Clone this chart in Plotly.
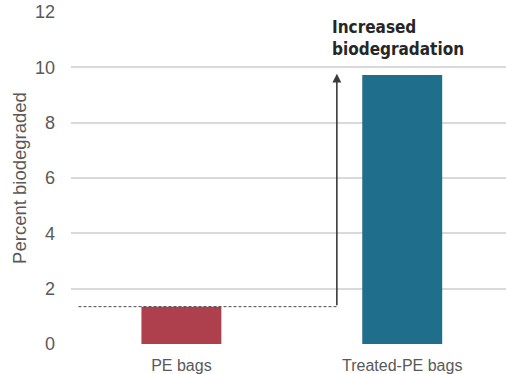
import plotly.graph_objects as go

categories = ["PE bags", "Treated-PE bags"]
values = [1.35, 9.72]
bar_colors = ["#AE404D", "#1F6E8C"]
y_ticks = [0, 2, 4, 6, 8, 10, 12]

x_pos = list(range(len(categories)))
arrow_x = 0.704  # horizontal position of the vertical arrow

fig = go.Figure()
fig.add_trace(go.Bar(
    x=x_pos, y=values, width=0.362,
    marker=dict(color=bar_colors, line=dict(width=0)),
    showlegend=False, hoverinfo="skip",
))

# dashed baseline from the untreated level to the arrow
fig.add_shape(type="line", xref="x", yref="y",
              x0=-0.466, x1=arrow_x, y0=values[0], y1=values[0],
              line=dict(color="#4a4a4a", width=1, dash="3px,2px"))

# vertical arrow up to the treated level
fig.add_annotation(xref="x", yref="y", axref="x", ayref="y",
                   x=arrow_x, y=values[1] + 0.05, ax=arrow_x, ay=values[0],
                   showarrow=True, arrowhead=2, arrowsize=1.1, arrowwidth=1.6,
                   arrowcolor="#3a3a3a", text="")

fig.add_annotation(xref="x", yref="y", x=0.672, y=11.9,
                   xanchor="left", yanchor="top", align="left", showarrow=False,
                   text="Increased<br>biodegradation",
                   font=dict(family="DejaVu Sans Condensed, sans-serif",
                             size=17, color="#262626", weight="bold"))

fig.update_layout(
    width=506, height=374,
    margin=dict(l=71, r=0, t=12, b=30),
    paper_bgcolor="white", plot_bgcolor="white",
    font=dict(family="Liberation Sans, Arial, sans-serif", size=16, color="#595959"),
    xaxis=dict(tickmode="array", tickvals=x_pos, ticktext=categories,
               range=[-0.5, 1.47], showgrid=False, zeroline=False,
               showline=False, ticks="", ticklabelstandoff=10),
    yaxis=dict(range=[0, 12], tickvals=y_ticks, showgrid=True,
               gridcolor="#D9D9D9", gridwidth=1.5, zeroline=False,
               showline=False, ticks="", ticklabelstandoff=15,
               tickfont=dict(size=18),
               title=dict(text="Percent biodegraded", font=dict(size=18.5), standoff=3)),
)

fig.write_html("out.html")
